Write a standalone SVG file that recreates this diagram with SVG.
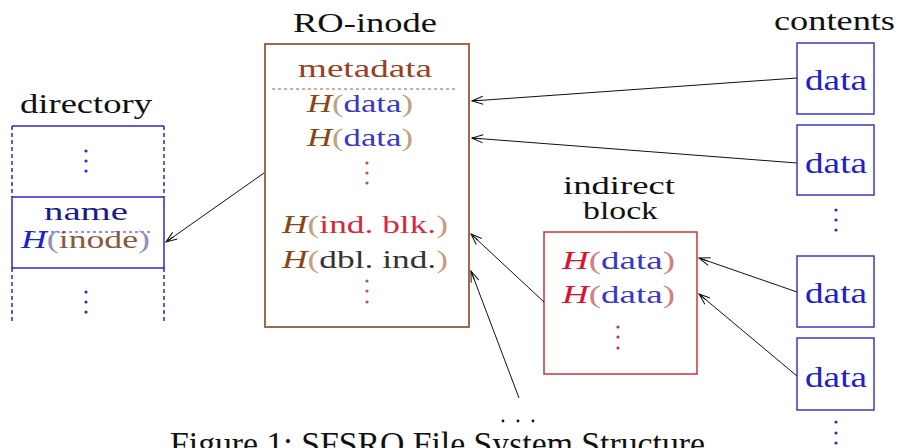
<svg xmlns="http://www.w3.org/2000/svg" width="899" height="448" viewBox="0 0 899 448">
<style>
text{font-family:"Liberation Serif","Times New Roman",serif;}
.lbl{font-size:28px;fill:#111;}
.in{font-size:26px;}
.it{font-style:italic;}
.dir{fill:none;stroke:#2a2ad0;stroke-width:1.5;}
.dash{stroke-dasharray:4 3;}
.ino{fill:none;stroke:#9c6b4e;stroke-width:2;}
.ind{fill:none;stroke:#d0303a;stroke-width:1.5;}
.cnt{fill:none;stroke:#3a3ac8;stroke-width:1.5;}
.cd{font-size:30px;fill:#2020d0;}
.con{fill:none;stroke:#111;stroke-width:1;marker-end:url(#arr);}
</style>
<defs>
<marker id="arr" viewBox="-12 -6 14 12" refX="0" refY="0" markerWidth="14" markerHeight="12" markerUnits="userSpaceOnUse" orient="auto" overflow="visible">
<path d="M-11,-4 L0,0 L-11,4 M-9,0 L0,0" fill="none" stroke="#111" stroke-width="1"/>
</marker>
</defs>
<rect width="899" height="448" fill="#fff"/>

<g id="directory">
<text class="lbl" x="20" y="113" textLength="132" lengthAdjust="spacingAndGlyphs">directory</text>
<line class="dir" x1="12" y1="126" x2="164" y2="126"/>
<line class="dir dash" x1="12" y1="126" x2="12" y2="197"/>
<line class="dir dash" x1="164" y1="126" x2="164" y2="197"/>
<rect class="dir" x="12" y="197" width="152" height="71"/>
<line class="dir dash" x1="12" y1="268" x2="12" y2="322"/>
<line class="dir dash" x1="164" y1="268" x2="164" y2="322"/>
<line x1="33" y1="232" x2="152" y2="232" stroke="#2a2ad0" stroke-width="1.2" stroke-dasharray="3 3"/>
<g fill="#2a2ad0"><circle cx="86" cy="151" r="1.6"/><circle cx="86" cy="161" r="1.6"/><circle cx="86" cy="171" r="1.6"/><circle cx="86" cy="292" r="1.6"/><circle cx="86" cy="302" r="1.6"/><circle cx="86" cy="312" r="1.6"/></g>
<text class="in" x="44" y="220" textLength="84" lengthAdjust="spacingAndGlyphs" fill="#1a1a90">name</text>
<text class="in" x="21" y="248" textLength="129" lengthAdjust="spacingAndGlyphs"><tspan class="it" fill="#2020d0">H</tspan><tspan fill="#9090b8">(</tspan><tspan fill="#8b5a3c">inode</tspan><tspan fill="#9090b8">)</tspan></text>
</g>

<g id="ro-inode">
<text class="lbl" x="293" y="32" textLength="144" lengthAdjust="spacingAndGlyphs">RO-inode</text>
<rect class="ino" x="265" y="44" width="204" height="283"/>
<text class="in" x="298" y="77" textLength="134" lengthAdjust="spacingAndGlyphs" fill="#9a4020">metadata</text>
<line x1="272" y1="89" x2="457" y2="89" stroke="#a06040" stroke-width="1.2" stroke-dasharray="3 3"/>
<text class="in" x="307" y="112" textLength="106" lengthAdjust="spacingAndGlyphs"><tspan class="it" fill="#8b4513">H</tspan><tspan fill="#c4a080">(</tspan><tspan fill="#3838c8">data</tspan><tspan fill="#c4a080">)</tspan></text>
<text class="in" x="307" y="146" textLength="106" lengthAdjust="spacingAndGlyphs"><tspan class="it" fill="#8b4513">H</tspan><tspan fill="#c4a080">(</tspan><tspan fill="#3838c8">data</tspan><tspan fill="#c4a080">)</tspan></text>
<g fill="#b05a3a"><circle cx="367" cy="163" r="1.6"/><circle cx="367" cy="173" r="1.6"/><circle cx="367" cy="183" r="1.6"/><circle cx="367" cy="281" r="1.6"/><circle cx="367" cy="291" r="1.6"/><circle cx="367" cy="302" r="1.6"/></g>
<text class="in" x="282" y="233" textLength="166" lengthAdjust="spacingAndGlyphs"><tspan class="it" fill="#8b4513">H</tspan><tspan fill="#c4a080">(</tspan><tspan fill="#d8283a">ind. blk.</tspan><tspan fill="#c4a080">)</tspan></text>
<text class="in" x="282" y="268" textLength="166" lengthAdjust="spacingAndGlyphs"><tspan class="it" fill="#8b4513">H</tspan><tspan fill="#c4a080">(</tspan><tspan fill="#333">dbl. ind.</tspan><tspan fill="#c4a080">)</tspan></text>
</g>

<g id="indirect-block">
<text x="563" y="194" font-size="26" fill="#111" textLength="112" lengthAdjust="spacingAndGlyphs">indirect</text>
<text x="583" y="219" font-size="26" fill="#111" textLength="75" lengthAdjust="spacingAndGlyphs">block</text>
<rect class="ind" x="544" y="232" width="153" height="142"/>
<text class="in" x="562" y="269" textLength="113" lengthAdjust="spacingAndGlyphs"><tspan class="it" fill="#e0102a">H</tspan><tspan fill="#d08080">(</tspan><tspan fill="#3838c8">data</tspan><tspan fill="#d08080">)</tspan></text>
<text class="in" x="562" y="303" textLength="113" lengthAdjust="spacingAndGlyphs"><tspan class="it" fill="#e0102a">H</tspan><tspan fill="#d08080">(</tspan><tspan fill="#3838c8">data</tspan><tspan fill="#d08080">)</tspan></text>
<g fill="#d0303a"><circle cx="618" cy="327" r="1.6"/><circle cx="618" cy="337" r="1.6"/><circle cx="618" cy="348" r="1.6"/></g>
</g>

<g id="contents">
<text class="lbl" x="774" y="30" textLength="121" lengthAdjust="spacingAndGlyphs">contents</text>
<g id="data1"><rect class="cnt" x="797" y="43" width="77" height="71"/><text class="cd" x="805" y="90" textLength="62" lengthAdjust="spacingAndGlyphs">data</text></g>
<g id="data2"><rect class="cnt" x="797" y="125" width="77" height="70"/><text class="cd" x="805" y="173" textLength="62" lengthAdjust="spacingAndGlyphs">data</text></g>
<g id="data3"><rect class="cnt" x="797" y="256" width="77" height="71"/><text class="cd" x="805" y="303" textLength="62" lengthAdjust="spacingAndGlyphs">data</text></g>
<g id="data4"><rect class="cnt" x="797" y="338" width="77" height="72"/><text class="cd" x="805" y="387" textLength="62" lengthAdjust="spacingAndGlyphs">data</text></g>
<g fill="#2a2ad0"><circle cx="836" cy="210" r="1.6"/><circle cx="836" cy="220" r="1.6"/><circle cx="836" cy="230" r="1.6"/><circle cx="836" cy="422" r="1.6"/><circle cx="836" cy="433" r="1.6"/><circle cx="836" cy="443" r="1.6"/></g>
</g>

<g id="more">
<g fill="#111"><circle cx="503" cy="421" r="1.4"/><circle cx="518" cy="421" r="1.4"/><circle cx="533" cy="421" r="1.4"/></g>
</g>

<g id="connectors">
<path class="con" d="M797,78 L472,101"/>
<path class="con" d="M797,163 L472,138"/>
<path class="con" d="M264,173 L166,242"/>
<path class="con" d="M544,302 L471,234"/>
<path class="con" d="M519,398 L471,271"/>
<path class="con" d="M797,292 L699,258"/>
<path class="con" d="M797,376 L699,294"/>
</g>

<text x="170" y="455" font-size="33" fill="#111" textLength="535" lengthAdjust="spacingAndGlyphs">Figure 1: SFSRO File System Structure</text>
</svg>
